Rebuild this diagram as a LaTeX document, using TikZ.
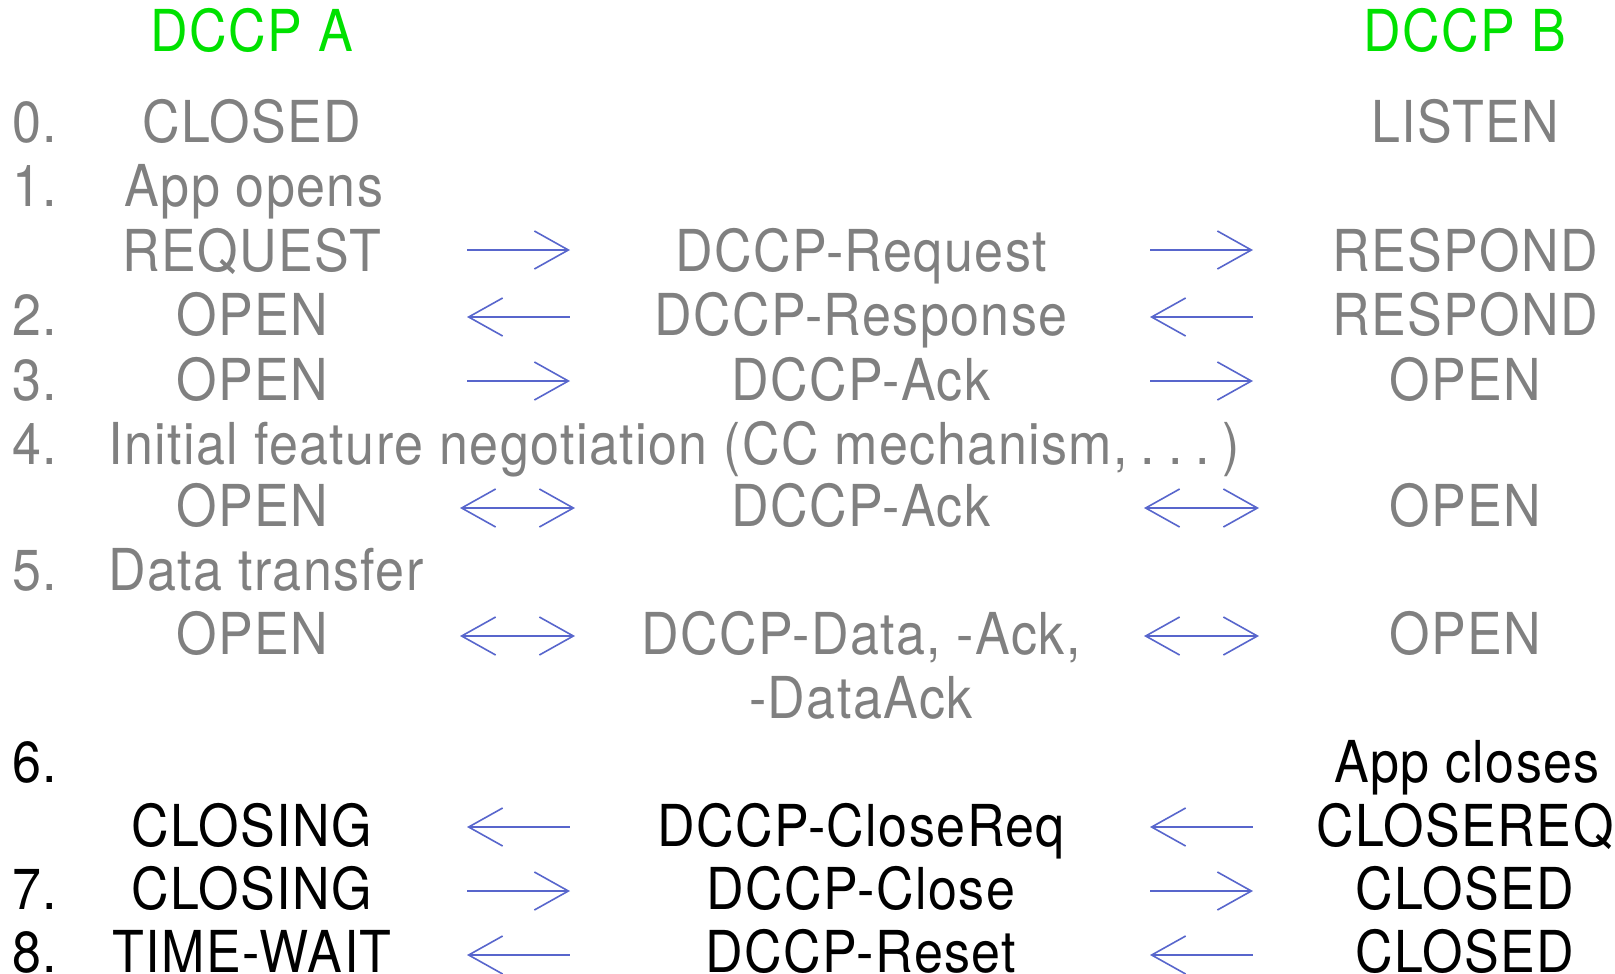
\documentclass[tikz,border=0pt]{standalone}
\usepackage{fontspec}
\setmainfont{TeX Gyre Heros}[FakeStretch=0.9, LetterSpace=2.5]
\usetikzlibrary{arrows.meta}

\definecolor{stategray}{RGB}{128,128,128}
\definecolor{hostgreen}{RGB}{0,225,0}
\definecolor{pktblue}{RGB}{88,102,204}

\tikzset{
  txt/.style={anchor=base, inner sep=0pt, font=\fontsize{58}{70}\selectfont},
  num/.style={txt, anchor=base west},
  host/.style={txt, text=hostgreen},
  old/.style={text=stategray},
  barb/.tip={Straight Barb[length=34bp,width=38bp,line width=1.6bp]},
  msg/.style={draw=pktblue, line width=1.6bp, -barb},
  msgback/.style={draw=pktblue, line width=1.6bp, barb-},
  msgboth/.style={draw=pktblue, line width=1.6bp, barb-barb},
}

\begin{document}
\begin{tikzpicture}[x=1bp, y=1bp]
\useasboundingbox (0,0) rectangle (1615,-973);

\node[host] (hA) at (252,-51) {DCCP A};
\node[host] (hB) at (1465,-51) {DCCP B};

\node[num, old] (n0) at (12,-142) {0.};
\node[txt, old] (a0) at (252,-142) {CLOSED};
\node[txt, old] (b0) at (1465,-142) {LISTEN};

\node[num, old] (n1) at (12,-206) {1.};
\node[txt, old] (a1) at (254,-206) {App opens};
\node[txt, old] (a1r) at (252,-271) {REQUEST};
\node[txt, old] (m1) at (861,-271) {DCCP-Request};
\node[txt, old] (b1) at (1465,-271) {RESPOND};

\node[num, old] (n2) at (12,-335) {2.};
\node[txt, old] (a2) at (252,-335) {OPEN};
\node[txt, old] (m2) at (861,-335) {DCCP-Response};
\node[txt, old] (b2) at (1465,-335) {RESPOND};

\node[num, old] (n3) at (12,-400) {3.};
\node[txt, old] (a3) at (252,-400) {OPEN};
\node[txt, old] (m3) at (861,-400) {DCCP-Ack};
\node[txt, old] (b3) at (1465,-400) {OPEN};

\node[num, old] (n4) at (12,-464) {4.};
\node[num, old] (t4) at (108,-464) {Initial feature negotiation (CC mechanism,\:.\:.\:.\:)};
\node[txt, old] (a4) at (252,-526) {OPEN};
\node[txt, old] (m4) at (861,-526) {DCCP-Ack};
\node[txt, old] (b4) at (1465,-526) {OPEN};

\node[num, old] (n5) at (12,-590) {5.};
\node[num, old] (t5) at (108,-590) {Data transfer};
\node[txt, old] (a5) at (252,-654) {OPEN};
\node[txt, old] (m5) at (861,-654) {DCCP-Data, -Ack,};
\node[txt, old] (m5b) at (861,-718) {-DataAck};
\node[txt, old] (b5) at (1465,-654) {OPEN};

\node[num] (n6) at (12,-782) {6.};
\node[txt] (b6) at (1467,-782) {App closes};
\node[txt] (a6) at (252,-846) {CLOSING};
\node[txt] (m6) at (861,-846) {DCCP-CloseReq};
\node[txt] (b6r) at (1465,-846) {CLOSEREQ};

\node[num] (n7) at (12,-909) {7.};
\node[txt] (a7) at (252,-909) {CLOSING};
\node[txt] (m7) at (861,-909) {DCCP-Close};
\node[txt] (b7) at (1465,-909) {CLOSED};

\node[num] (n8) at (12,-972) {8.};
\node[txt] (a8) at (252,-972) {TIME-WAIT};
\node[txt] (m8) at (861,-972) {DCCP-Reset};
\node[txt] (b8) at (1465,-972) {CLOSED};

\coordinate (al1) at (467,-250); \coordinate (ar1) at (570,-250);
\coordinate (bl1) at (1150,-250); \coordinate (br1) at (1253,-250);
\coordinate (al2) at (467,-317); \coordinate (ar2) at (570,-317);
\coordinate (bl2) at (1150,-317); \coordinate (br2) at (1253,-317);
\coordinate (al3) at (467,-381); \coordinate (ar3) at (570,-381);
\coordinate (bl3) at (1150,-381); \coordinate (br3) at (1253,-381);
\coordinate (al4) at (460,-508); \coordinate (ar4) at (575,-508);
\coordinate (bl4) at (1144,-508); \coordinate (br4) at (1259,-508);
\coordinate (al5) at (460,-636); \coordinate (ar5) at (575,-636);
\coordinate (bl5) at (1144,-636); \coordinate (br5) at (1259,-636);
\coordinate (al6) at (467,-827); \coordinate (ar6) at (570,-827);
\coordinate (bl6) at (1150,-827); \coordinate (br6) at (1253,-827);
\coordinate (al7) at (467,-891); \coordinate (ar7) at (570,-891);
\coordinate (bl7) at (1150,-891); \coordinate (br7) at (1253,-891);
\coordinate (al8) at (467,-955); \coordinate (ar8) at (570,-955);
\coordinate (bl8) at (1150,-955); \coordinate (br8) at (1253,-955);

\draw[msg] (al1) -- (ar1);
\draw[msg] (bl1) -- (br1);
\draw[msgback] (al2) -- (ar2);
\draw[msgback] (bl2) -- (br2);
\draw[msg] (al3) -- (ar3);
\draw[msg] (bl3) -- (br3);
\draw[msgboth] (al4) -- (ar4);
\draw[msgboth] (bl4) -- (br4);
\draw[msgboth] (al5) -- (ar5);
\draw[msgboth] (bl5) -- (br5);
\draw[msgback] (al6) -- (ar6);
\draw[msgback] (bl6) -- (br6);
\draw[msg] (al7) -- (ar7);
\draw[msg] (bl7) -- (br7);
\draw[msgback] (al8) -- (ar8);
\draw[msgback] (bl8) -- (br8);
\end{tikzpicture}
\end{document}
